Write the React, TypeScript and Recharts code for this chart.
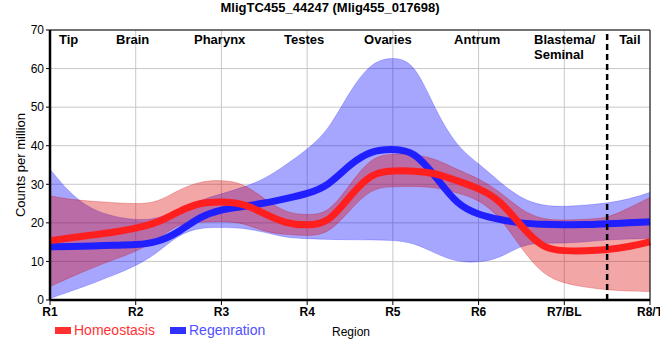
import React from "react";
import {
  ComposedChart,
  Area,
  Line,
  XAxis,
  YAxis,
  CartesianGrid,
  ReferenceLine,
} from "recharts";

const FONT = '"Liberation Sans", Arial, sans-serif';
const CURVE = "basis";

// sample positions along the body axis (1 = R1 ... 8 = R8/T)
const positions = [
  1, 1.25, 1.5, 1.75, 2, 2.25, 2.5, 2.75, 3, 3.25, 3.5, 3.75, 4, 4.25, 4.5,
  4.75, 5, 5.25, 5.5, 5.75, 6, 6.25, 6.5, 6.75, 7, 7.25, 7.5, 7.75, 8,
];

const homeoMean = [
  15.4, 16.1, 16.9, 17.6, 18.6, 19.9, 23.0, 25.3, 25.5, 25.1, 22.4, 19.8, 19.3,
  19.9, 27.0, 33.0, 33.5, 33.5, 32.9, 30.9, 29.0, 26.0, 19.0, 13.3, 12.7, 12.7,
  13.0, 13.8, 15.1,
];
const homeoLow = [
  3.5, 6.0, 8.4, 10.5, 12.5, 15.6, 19.9, 20.2, 20.4, 20.1, 17.6, 17.0, 16.6,
  17.1, 23.3, 29.0, 29.4, 29.5, 29.2, 27.8, 26.1, 21.6, 13.3, 6.5, 4.3, 3.3,
  2.6, 2.3, 2.2,
];
const homeoHigh = [
  27.0, 26.0, 25.6, 25.2, 24.9, 25.2, 28.6, 30.8, 31.1, 30.4, 26.2, 22.6, 22.0,
  22.4, 30.0, 37.2, 37.9, 37.9, 36.6, 33.8, 31.6, 28.1, 23.2, 20.8, 20.7, 20.9,
  21.2, 23.8, 26.6,
];

const regenMean = [
  13.8, 13.9, 14.0, 14.2, 14.3, 14.9, 17.5, 21.7, 23.5, 24.2, 25.1, 26.3, 27.5,
  29.6, 35.3, 38.8, 39.2, 38.6, 32.0, 24.6, 22.1, 20.8, 19.9, 19.6, 19.5, 19.5,
  19.8, 20.0, 20.3,
];
const regenLow = [
  0.4, 2.3, 4.3, 6.5, 8.8, 12.1, 17.0, 18.8, 18.8, 18.7, 17.6, 16.1, 15.9,
  15.7, 15.6, 15.6, 15.5, 14.8, 12.0, 9.8, 9.7, 10.8, 14.3, 14.8, 14.7, 15.1,
  15.6, 15.8, 16.0,
];
const regenHigh = [
  33.9, 27.2, 23.3, 21.6, 20.7, 21.0, 23.3, 25.9, 27.5, 29.2, 31.3, 35.0, 39.0,
  44.0, 54.3, 61.8, 63.0, 61.8, 49.0, 39.7, 35.4, 30.5, 26.2, 24.4, 24.2, 24.6,
  25.1, 26.1, 27.9,
];

const xTicks = [1, 2, 3, 4, 5, 6, 7, 8];
const xTickLabels = ["R1", "R2", "R3", "R4", "R5", "R6", "R7/BL", "R8/T"];
const yTicks = [0, 10, 20, 30, 40, 50, 60, 70];

const regionNames = [
  "Tip",
  "Brain",
  "Pharynx",
  "Testes",
  "Ovaries",
  "Antrum",
  "Blastema/\nSeminal",
  "Tail",
];
// left edge of each region name, in body-axis units
const regionAt = [1.105, 1.77, 2.68, 3.73, 4.664, 5.714, 6.647, 7.64];
const tailBoundary = 7.5;

const data = positions.map((pos, i) => ({
  pos,
  homeo: homeoMean[i],
  homeoBand: [homeoLow[i], homeoHigh[i]],
  regen: regenMean[i],
  regenBand: [regenLow[i], regenHigh[i]],
}));

function regionLabel(name: string) {
  return (props: any) => {
    const vb = props.viewBox || {};
    const lines = name.split("\n");
    return (
      <text
        x={vb.x}
        y={vb.y + 14}
        textAnchor="start"
        fontSize={13}
        fontWeight="bold"
        fill="#000"
        fontFamily={FONT}
      >
        {lines.map((l, k) => (
          <tspan key={k} x={vb.x} dy={k === 0 ? 0 : 14.5}>
            {l}
          </tspan>
        ))}
      </text>
    );
  };
}

const yLabel = (props: any) => {
  const vb = props.viewBox || {};
  const cx = vb.x + 20;
  const cy = vb.y + vb.height / 2;
  return (
    <text
      x={cx}
      y={cy}
      transform={`rotate(-90 ${cx} ${cy})`}
      textAnchor="middle"
      dominantBaseline="central"
      fontSize={13}
      fill="#000"
      fontFamily={FONT}
    >
      Counts per million
    </text>
  );
};

const xLabel = (props: any) => {
  const vb = props.viewBox || {};
  return (
    <text
      x={vb.x + vb.width / 2 + 1}
      y={vb.y + 36}
      textAnchor="middle"
      fontSize={12}
      fill="#000"
      fontFamily={FONT}
    >
      Region
    </text>
  );
};

export default function App() {
  return (
    <div
      style={{
        position: "absolute",
        left: 0,
        top: 0,
        width: 660,
        height: 360,
        background: "#fff",
        fontFamily: FONT,
        overflow: "hidden",
      }}
    >
      <div
        style={{
          position: "absolute",
          top: 0,
          left: 0,
          width: 660,
          textAlign: "center",
          fontWeight: "bold",
          fontSize: 13,
          lineHeight: "16px",
          color: "#000",
        }}
      >
        MligTC455_44247 (Mlig455_017698)
      </div>

      <ComposedChart
        width={660}
        height={360}
        data={data}
        margin={{ top: 30, right: 10, bottom: 20, left: 0 }}
      >
        <CartesianGrid stroke="#c8c8c8" strokeWidth={1} />
        <XAxis
          type="number"
          dataKey="pos"
          domain={[1, 8]}
          ticks={xTicks}
          interval={0}
          height={40}
          tickFormatter={(v) => xTickLabels[v - 1]}
          tick={{
            fontSize: 12,
            fontWeight: "bold",
            fill: "#000",
            fontFamily: FONT,
          }}
          tickSize={5}
          tickLine={{ stroke: "#000" }}
          axisLine={{ stroke: "#000", strokeWidth: 2.5 }}
          label={xLabel}
        />
        <YAxis
          type="number"
          domain={[0, 70]}
          ticks={yTicks}
          interval={0}
          width={50}
          tick={{ fontSize: 12, fill: "#000", fontFamily: FONT }}
          tickSize={4}
          tickLine={{ stroke: "#000" }}
          axisLine={{ stroke: "#000", strokeWidth: 2.5 }}
          label={yLabel}
        />

        <Area
          type={CURVE}
          dataKey="regenBand"
          fill="#0000ff"
          fillOpacity={0.35}
          stroke="#0000ff"
          strokeOpacity={0.2}
          strokeWidth={1}
          dot={false}
          activeDot={false}
          isAnimationActive={false}
        />
        <Line
          type={CURVE}
          dataKey="regen"
          stroke="#1f1fff"
          strokeWidth={7}
          dot={false}
          activeDot={false}
          isAnimationActive={false}
        />
        <Area
          type={CURVE}
          dataKey="homeoBand"
          fill="#dd0000"
          fillOpacity={0.35}
          stroke="#cc0000"
          strokeOpacity={0.25}
          strokeWidth={1}
          dot={false}
          activeDot={false}
          isAnimationActive={false}
        />
        <Line
          type={CURVE}
          dataKey="homeo"
          stroke="#ff1f1f"
          strokeWidth={7}
          dot={false}
          activeDot={false}
          isAnimationActive={false}
        />

        <ReferenceLine y={70} stroke="#000" strokeWidth={1} />
        <ReferenceLine x={8} stroke="#000" strokeWidth={1} />
        <ReferenceLine
          x={tailBoundary}
          stroke="#000"
          strokeWidth={2.5}
          strokeDasharray="6 4"
        />
        {regionNames.map((name, i) => (
          <ReferenceLine
            key={name}
            x={regionAt[i]}
            stroke="none"
            label={regionLabel(name)}
          />
        ))}
      </ComposedChart>

      {/* legend */}
      <div
        style={{
          position: "absolute",
          top: 322,
          left: 55,
          display: "flex",
          alignItems: "center",
          fontSize: 14,
          lineHeight: "16px",
        }}
      >
        <span
          style={{ width: 16, height: 7, background: "#ff3030", marginRight: 3 }}
        />
        <span style={{ color: "#ff3333" }}>Homeostasis</span>
      </div>
      <div
        style={{
          position: "absolute",
          top: 322,
          left: 170,
          display: "flex",
          alignItems: "center",
          fontSize: 14,
          lineHeight: "16px",
        }}
      >
        <span
          style={{ width: 16, height: 7, background: "#3030ff", marginRight: 3 }}
        />
        <span style={{ color: "#5050ff" }}>Regenration</span>
      </div>
    </div>
  );
}
